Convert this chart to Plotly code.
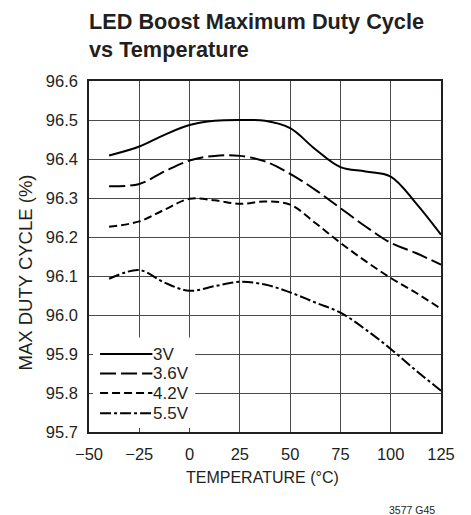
import plotly.graph_objects as go

# Temperature sweep (°C) and maximum duty cycle (%) for each LED supply voltage
temperature = [-40, -25, -12.5, 0, 12.5, 25, 37.5, 50, 62.5, 75, 87.5, 100, 112.5, 125]
duty_3v0 = [96.409, 96.432, 96.462, 96.487, 96.498, 96.500, 96.498, 96.479, 96.425, 96.379, 96.368, 96.355, 96.287, 96.206]
duty_3v6 = [96.330, 96.336, 96.368, 96.396, 96.408, 96.408, 96.394, 96.362, 96.321, 96.274, 96.227, 96.185, 96.159, 96.129]
duty_4v2 = [96.226, 96.240, 96.270, 96.298, 96.294, 96.285, 96.291, 96.283, 96.236, 96.185, 96.138, 96.095, 96.057, 96.016]
duty_5v5 = [96.093, 96.115, 96.083, 96.062, 96.074, 96.085, 96.078, 96.058, 96.032, 96.006, 95.963, 95.913, 95.858, 95.806]

series_names = ["3V", "3.6V", "4.2V", "5.5V"]
series_values = [duty_3v0, duty_3v6, duty_4v2, duty_5v5]
dash_styles = ["solid", "16px,5px", "8px,4px", "11px,3px,3px,3px"]

x_ticks = [-50, -25, 0, 25, 50, 75, 100, 125]
y_ticks = [95.7, 95.8, 95.9, 96.0, 96.1, 96.2, 96.3, 96.4, 96.5, 96.6]

FONT = "Liberation Sans, Arial, sans-serif"
INK = "#231f20"

fig = go.Figure()
for name, values, dash in zip(series_names, series_values, dash_styles):
    fig.add_trace(go.Scatter(
        x=temperature, y=values, name=name, mode="lines",
        line=dict(color="black", width=2, dash=dash, shape="spline", smoothing=1.0),
        showlegend=False,
    ))

# Key box: white panel over the grid in the lower-left corner
fig.add_shape(type="rect", xref="x", yref="y", x0=-48, x1=2.8, y0=95.71, y1=95.942,
              fillcolor="white", line=dict(width=0), layer="between")

key_y = [95.900, 95.850, 95.800, 95.748]
for name, dash, ky in zip(series_names, dash_styles, key_y):
    fig.add_shape(type="line", xref="x", yref="y", x0=-44.5, x1=-18.5, y0=ky, y1=ky,
                  line=dict(color="black", width=2, dash=dash))
    fig.add_annotation(x=-18.5, y=ky, xref="x", yref="y", text=name, showarrow=False,
                       xanchor="left", yanchor="middle", xshift=-1,
                       font=dict(family=FONT, size=17, color=INK))

axis_common = dict(
    showgrid=True, gridcolor="#4a4a4a", gridwidth=1,
    showline=True, linecolor=INK, linewidth=1.5, mirror=True,
    ticks="inside", ticklen=4, tickcolor="#4a4a4a", tickwidth=1,
    zeroline=False,
    tickfont=dict(family=FONT, size=16.5, color=INK),
)

fig.update_xaxes(range=[-50, 125], tickvals=x_ticks,
                 ticktext=[f"{v}".replace("-", "\u2212") for v in x_ticks],
                 ticklabelstandoff=6, **axis_common)
fig.update_yaxes(range=[95.7, 96.6], tickvals=y_ticks, ticktext=[f"{v:.1f}" for v in y_ticks],
                 ticklabelstandoff=6, **axis_common)

# Title lines, axis titles and figure code
fig.add_annotation(text="<b>LED Boost Maximum Duty Cycle</b>", xref="paper", yref="paper",
                   x=0, y=1, xanchor="left", yanchor="bottom", yshift=45, xshift=-2, showarrow=False,
                   font=dict(family=FONT, size=21.7, color=INK))
fig.add_annotation(text="<b>vs Temperature</b>", xref="paper", yref="paper",
                   x=0, y=1, xanchor="left", yanchor="bottom", yshift=17, xshift=-2, showarrow=False,
                   font=dict(family=FONT, size=21.7, color=INK))
fig.add_annotation(text="TEMPERATURE (°C)", xref="paper", yref="paper",
                   x=0.494, y=0, xanchor="center", yanchor="middle", yshift=-45, showarrow=False,
                   font=dict(family=FONT, size=16, color=INK))
fig.add_annotation(text="MAX DUTY CYCLE (%)", xref="paper", yref="paper", textangle=-90,
                   x=0, y=0.5, xanchor="center", yanchor="middle", xshift=-64, yshift=-16, showarrow=False,
                   font=dict(family=FONT, size=18.5, color=INK))
fig.add_annotation(text="3577 G45", xref="paper", yref="paper",
                   x=1, y=0, xanchor="right", yanchor="middle", xshift=-4, yshift=-78, showarrow=False,
                   font=dict(family=FONT, size=10.5, color=INK))

fig.update_layout(
    width=471, height=515,
    margin=dict(l=89, r=30, t=81, b=83),
    paper_bgcolor="white", plot_bgcolor="white",
    font=dict(family=FONT, color=INK),
)

fig.write_html("out.html")
